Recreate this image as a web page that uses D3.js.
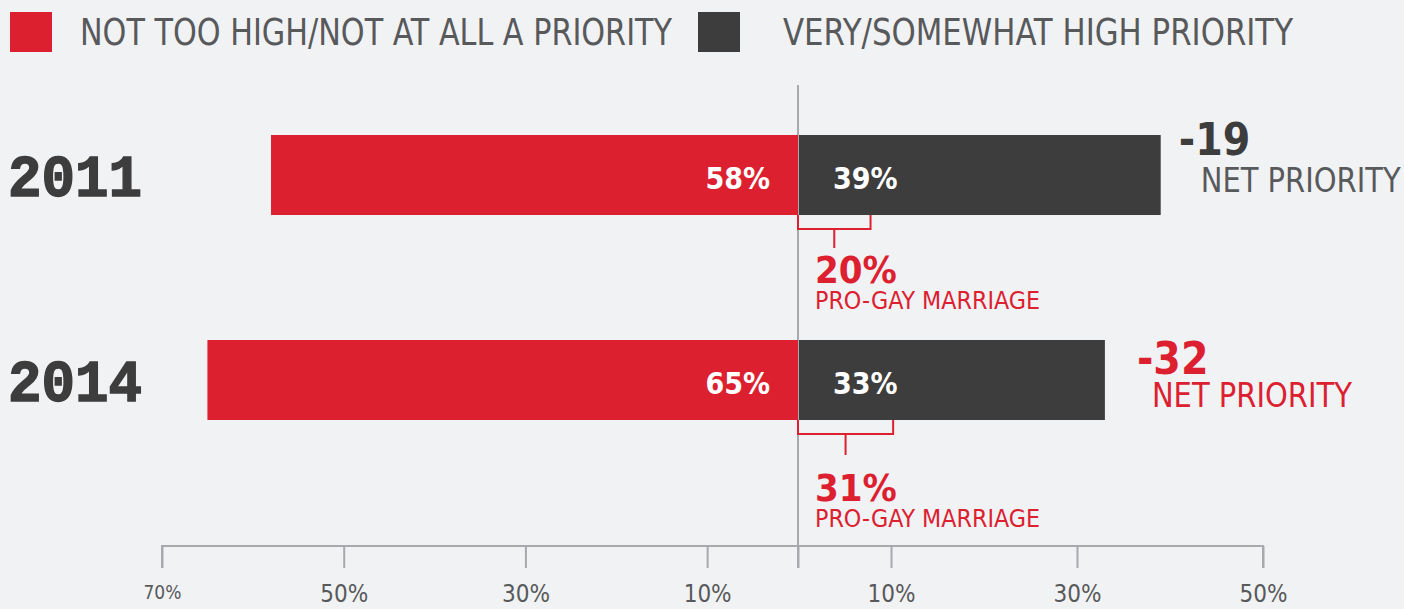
<!DOCTYPE html>
<html>
<head>
<meta charset="utf-8">
<script src="https://cdn.jsdelivr.net/npm/d3@7"></script>
<style>
  body { margin: 0; background: #f1f2f4; }
  text { font-family: "Liberation Sans Narrow", "DejaVu Sans Condensed", "Roboto", sans-serif; }
</style>
</head>
<body>
<div id="chart-area"></div>
<script>
/*
*    priority chart
*/

var years = ["2011", "2014"];
var notPriority = [58, 65];
var highPriority = [39, 33];
var proGay = [20, 31];
var netPriority = [-19, -32];
var tickValues = [-70, -50, -30, -10, 0, 10, 30, 50];
var legendLabels = ["NOT TOO HIGH/NOT AT ALL A PRIORITY", "VERY/SOMEWHAT HIGH PRIORITY"];

var width = 1404;
var height = 609;

var red = "#dc202f";
var dark = "#3d3d3d";
var gray = "#58595b";

var svg = d3.select("#chart-area").append("svg")
    .attr("width", width)
    .attr("height", height);

svg.append("rect")
    .attr("width", width)
    .attr("height", height)
    .attr("fill", "#f1f2f4");

var x = d3.scaleLinear()
    .domain([-70, 0, 50])
    .range([162, 798, 1263]);

var y = d3.scalePoint()
    .domain(years)
    .range([175, 380]);

var barH = 80;

// legend
var legend = svg.append("g");
legend.append("rect")
    .attr("x", 10).attr("y", 12)
    .attr("width", 42).attr("height", 40)
    .attr("fill", red);
legend.append("text")
    .attr("x", 80).attr("y", 45)
    .attr("font-size", 38)
    .attr("fill", gray)
    .attr("textLength", 592)
    .attr("lengthAdjust", "spacingAndGlyphs")
    .text(legendLabels[0]);
legend.append("rect")
    .attr("x", 698).attr("y", 12)
    .attr("width", 42).attr("height", 40)
    .attr("fill", dark);
legend.append("text")
    .attr("x", 783).attr("y", 45)
    .attr("font-size", 38)
    .attr("fill", gray)
    .attr("textLength", 510)
    .attr("lengthAdjust", "spacingAndGlyphs")
    .text(legendLabels[1]);

// x Axis
var axisCall = d3.axisBottom(x)
    .tickValues(tickValues)
    .tickSize(22)
    .tickFormat((d) => d == 0 ? "" : Math.abs(d) + "%");
var axisG = svg.append("g")
    .attr("transform", "translate(0, 546)")
    .call(axisCall);
axisG.select(".domain")
    .attr("stroke", "#a7a9ac")
    .attr("stroke-width", 2)
    .attr("d", "M" + x(-70) + ",22V0H" + x(50) + "V22");
axisG.selectAll(".tick line")
    .attr("stroke", "#a7a9ac")
    .attr("stroke-width", 2);
axisG.selectAll(".tick text")
    .attr("y", (d) => d == -70 ? 53 : 56)
    .attr("dy", 0)
    .attr("font-size", (d) => d == -70 ? 19 : 24)
    .attr("fill", gray)
    .style("font-family", "\"Liberation Sans Narrow\", \"DejaVu Sans Condensed\", sans-serif");

// center line
svg.append("line")
    .attr("x1", x(0)).attr("x2", x(0))
    .attr("y1", 85).attr("y2", 568)
    .attr("stroke", "#a7a9ac")
    .attr("stroke-width", 2);

var rows = years.map((d, i) => ({
    year: d, no: notPriority[i], high: highPriority[i], pro: proGay[i], net: netPriority[i]
}));

// bars
svg.selectAll("rect.no")
    .data(rows).enter()
    .append("rect")
        .attr("class", "no")
        .attr("x", (d) => x(-d.no))
        .attr("y", (d) => y(d.year) - barH / 2)
        .attr("width", (d) => x(0) - x(-d.no))
        .attr("height", barH)
        .attr("fill", red);

svg.selectAll("rect.high")
    .data(rows).enter()
    .append("rect")
        .attr("class", "high")
        .attr("x", x(0) + 1)
        .attr("y", (d) => y(d.year) - barH / 2)
        .attr("width", (d) => x(d.high) - x(0) - 1)
        .attr("height", barH)
        .attr("fill", dark);

// year labels
svg.selectAll("text.year")
    .data(rows).enter()
    .append("text")
        .attr("class", "year")
        .attr("x", 8)
        .attr("y", (d) => y(d.year) + 21)
        .attr("font-size", 60)
        .attr("font-weight", "bold")
        .attr("fill", dark)
        .attr("stroke", dark)
        .attr("stroke-width", 1.5)
        .attr("textLength", 134)
        .attr("lengthAdjust", "spacingAndGlyphs")
        .style("font-family", "\"Liberation Mono\", \"DejaVu Sans Mono\", monospace")
        .text((d) => d.year);

// value labels
svg.selectAll("text.noval")
    .data(rows).enter()
    .append("text")
        .attr("x", x(0) - 28)
        .attr("y", (d) => y(d.year) + 14)
        .attr("text-anchor", "end")
        .attr("font-size", 30)
        .attr("font-weight", "bold")
        .attr("fill", "#fff")
        .text((d) => d.no + "%");

svg.selectAll("text.highval")
    .data(rows).enter()
    .append("text")
        .attr("x", x(0) + 35)
        .attr("y", (d) => y(d.year) + 14)
        .attr("font-size", 30)
        .attr("font-weight", "bold")
        .attr("fill", "#fff")
        .text((d) => d.high + "%");

// brackets: share of high priority that is pro-gay marriage
var bracket = svg.selectAll("g.bracket")
    .data(rows).enter()
    .append("g")
        .attr("transform", (d) => "translate(0, " + (y(d.year) + barH / 2) + ")");

bracket.append("path")
    .attr("fill", "none")
    .attr("stroke", red)
    .attr("stroke-width", 2)
    .attr("d", (d) => {
        var x1 = x(d.high * d.pro / 100);
        var mid = (x(0) + x1) / 2;
        return "M" + x(0) + ",0V14H" + x1 + "V0M" + mid + ",14V" + (d.year == "2011" ? 33 : 35);
    });

bracket.append("text")
    .attr("x", 815)
    .attr("y", (d) => d.year == "2011" ? 68 : 81)
    .attr("font-size", 38)
    .attr("font-weight", "bold")
    .attr("fill", red)
    .text((d) => d.pro + "%");

bracket.append("text")
    .attr("x", 815)
    .attr("y", (d) => d.year == "2011" ? 94 : 107)
    .attr("font-size", 24)
    .attr("fill", red)
    .attr("textLength", 225)
    .attr("lengthAdjust", "spacingAndGlyphs")
    .text("PRO-GAY MARRIAGE");

// net priority
var net = svg.selectAll("g.net")
    .data(rows).enter()
    .append("g")
        .attr("transform", (d) => "translate(" + (x(d.high) + (d.year == "2011" ? 18 : 32)) + ", " + y(d.year) + ")");

net.append("text")
    .attr("y", (d) => d.year == "2011" ? -20 : -6)
    .attr("font-size", 44)
    .attr("font-weight", "bold")
    .attr("fill", (d) => d.year == "2011" ? dark : red)
    .text((d) => d.net);

net.append("text")
    .attr("x", (d) => d.year == "2011" ? 22 : 15)
    .attr("y", (d) => d.year == "2011" ? 17 : 27)
    .attr("font-size", 33)
    .attr("fill", (d) => d.year == "2011" ? gray : red)
    .attr("textLength", 200)
    .attr("lengthAdjust", "spacingAndGlyphs")
    .text("NET PRIORITY");
</script>
</body>
</html>
